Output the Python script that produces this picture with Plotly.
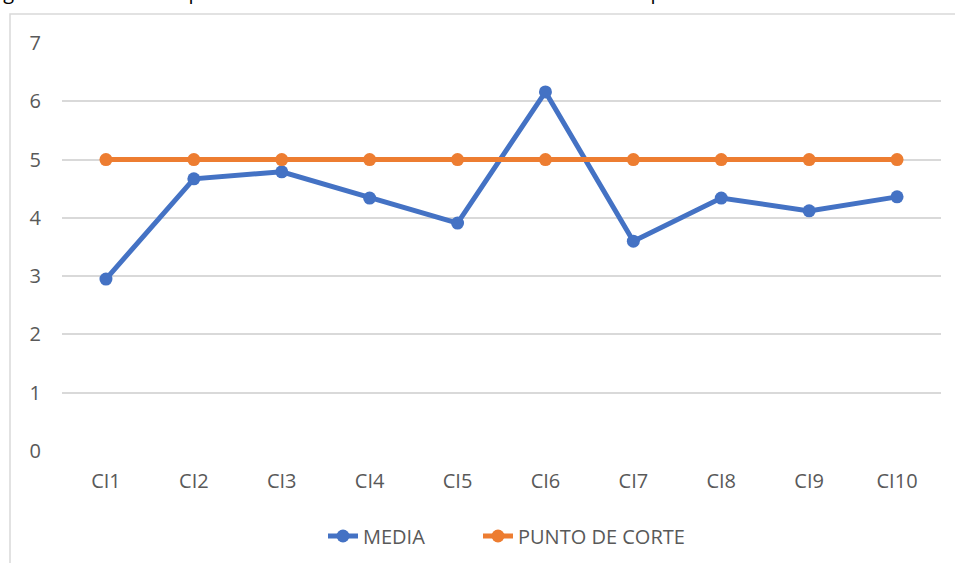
import plotly.graph_objects as go

categories = ["CI1", "CI2", "CI3", "CI4", "CI5", "CI6", "CI7", "CI8", "CI9", "CI10"]
media = [2.95, 4.67, 4.79, 4.34, 3.91, 6.16, 3.60, 4.34, 4.12, 4.36]
punto_corte = [5, 5, 5, 5, 5, 5, 5, 5, 5, 5]
y_ticks = [0, 1, 2, 3, 4, 5, 6, 7]

fig = go.Figure()
fig.add_trace(go.Scatter(
    x=categories, y=media, name="MEDIA", mode="lines+markers", legend="legend",
    line=dict(color="#4472C4", width=5), marker=dict(size=13, color="#4472C4"),
))
fig.add_trace(go.Scatter(
    x=categories, y=punto_corte, name="PUNTO DE CORTE", mode="lines+markers", legend="legend2",
    line=dict(color="#ED7D31", width=5), marker=dict(size=13, color="#ED7D31"),
))

legend_common = dict(orientation="h", xanchor="left", xref="container",
                     y=(563 - 536) / 563, yanchor="middle", yref="container",
                     font=dict(size=20, color="#595959"), bgcolor="rgba(0,0,0,0)")

fig.update_layout(
    width=955, height=563,
    margin=dict(l=62, r=14, t=43, b=112, autoexpand=False),
    paper_bgcolor="white", plot_bgcolor="white",
    font=dict(family="Open Sans", size=20, color="#595959"),
    showlegend=True,
    legend=dict(x=323 / 955, **legend_common),
    legend2=dict(x=478 / 955, **legend_common),
    xaxis=dict(type="category", range=[-0.5, 9.5], showgrid=False, zeroline=False,
               showline=False, ticks="", ticklabelstandoff=16, automargin=False),
    yaxis=dict(range=[0, 7.0], tickvals=y_ticks, showgrid=True, gridcolor="#D9D9D9",
               gridwidth=1.5, zeroline=False, showline=False, ticks="",
               ticklabelstandoff=20, automargin=False),
    shapes=[dict(type="rect", xref="paper", yref="paper",
                 x0=(10 - 62) / 879, x1=1.1, y0=-0.4, y1=(451 - 14) / 408,
                 line=dict(color="#D9D9D9", width=1.5), layer="below")],
    annotations=[dict(text="Figura 2. Análisis comparativo entre las dimensiones evaluadas con los puntos de corte",
                      xref="paper", yref="paper", x=(-14 - 62) / 879, y=(451 - 7) / 408,
                      xanchor="left", yanchor="bottom", showarrow=False,
                      font=dict(family="Open Sans", size=20, color="black"))],
)

fig.write_html("out.html", config={"displayModeBar": False},
               post_script="document.body.style.margin='0';document.documentElement.style.margin='0';")
